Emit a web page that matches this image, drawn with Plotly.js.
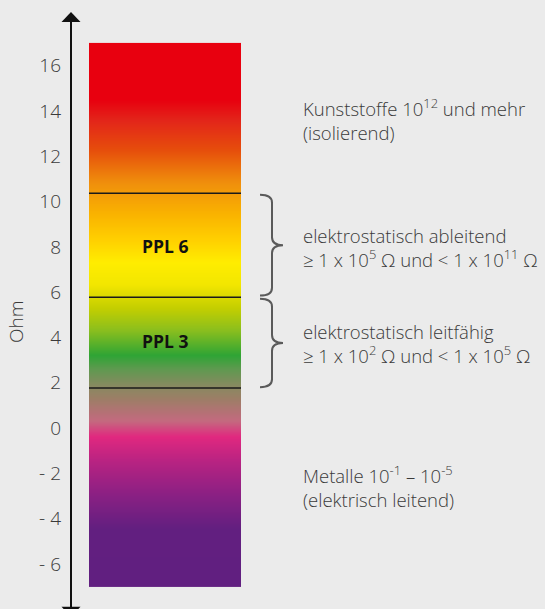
<!DOCTYPE html>
<html>
<head>
<meta charset="utf-8">
<script src="https://cdn.plot.ly/plotly-3.0.1.min.js"></script>
<style>
  html, body { margin: 0; padding: 0; background: #ebebeb; }
  #chart { width: 545px; height: 609px; }
</style>
</head>
<body>
<div id="chart"></div>
<script>
// ---- data ----
var barBottom = -7;
var barTop = 17;
var tickValues = [-6, -4, -2, 0, 2, 4, 6, 8, 10, 12, 14, 16];
var tickLabels = ['- 6', '- 4', '- 2', '0', '2', '4', '6', '8', '10', '12', '14', '16'];
var boundaries = [10.37, 5.78, 1.77];          // class borders inside the bar
var classNames = ['PPL 6', 'PPL 3'];
var classCenters = [8.04, 3.84];
var noteTexts = [
  'Kunststoffe 10<sup>12</sup> und mehr<br>(isolierend)',
  'elektrostatisch ableitend<br>≥ 1 x 10<sup>5</sup> Ω und &lt; 1 x 10<sup>11</sup> Ω',
  'elektrostatisch leitfähig<br>≥ 1 x 10<sup>2</sup> Ω und &lt; 1 x 10<sup>5</sup> Ω',
  'Metalle 10<sup>-1</sup> – 10<sup>-5</sup><br>(elektrisch leitend)'
];
var noteCenters = [13.62, 7.99, 3.73, -2.56];
var axisTitle = 'Ohm';

// gradient colour stops (value on the Ohm axis, colour)
var stopValues = [-7, -4.5, -3.0, -1.5, -0.4, 0.3, 1.3, 1.9, 2.6, 3.2, 4.3, 5.3, 6.3, 7.3, 8.3, 9.4, 10.8, 12.3, 13.6, 14.5, 17];
var stopColors = ['#611f80', '#621f80', '#8a2083', '#b82382', '#e1287f', '#c46a7f', '#9c7f66', '#868b60', '#5f9a50', '#2fa535',
                  '#8abf1e', '#c5cf00', '#f2e600', '#ffed00', '#ffd000', '#fab400', '#f0900c', '#e64d0c', '#e3251a', '#e8000f', '#e8000f'];

// ---- build ----
var span = barTop - barBottom;
var colorscale = stopValues.map(function (v, i) { return [(v - barBottom) / span, stopColors[i]]; });

var barLeft = 89, barRight = 241, axisX = 71;
var yRange = [-7.99, 18.90];

var heat = {
  type: 'heatmap',
  x: [barLeft, (barLeft + barRight) / 2, barRight],
  y: [barBottom, barBottom + 0.01, barTop - 0.01, barTop],
  z: [[barBottom, barBottom], [barBottom, barBottom], [barTop, barTop], [barTop, barTop]],
  zmin: barBottom, zmax: barTop,
  colorscale: colorscale,
  zsmooth: 'best',
  showscale: false,
  hoverinfo: 'skip'
};

var shapes = [];
boundaries.forEach(function (b) {
  shapes.push({ type: 'line', xref: 'x', yref: 'y', x0: barLeft, x1: barRight, y0: b, y1: b,
    line: { color: '#1a1a1a', width: 1.5 } });
});
shapes.push({ type: 'line', xref: 'x', yref: 'y', x0: axisX, x1: axisX, y0: yRange[0], y1: 17.93,
  line: { color: '#111', width: 2 } });
shapes.push({ type: 'path', xref: 'x', yref: 'y',
  path: 'M ' + (axisX - 9.5) + ',17.93 L ' + (axisX + 9.5) + ',17.93 L ' + axisX + ',18.37 Z',
  fillcolor: '#111', line: { width: 0 } });
shapes.push({ type: 'path', xref: 'x', yref: 'y',
  path: 'M ' + (axisX - 9.5) + ',-7.89 L ' + (axisX + 9.5) + ',-7.89 L ' + axisX + ',-8.34 Z',
  fillcolor: '#111', line: { width: 0 } });
function brace(yt, yb) {
  var x0 = 260, x1 = 272, x2 = 283, d = 0.35, ym = (yt + yb) / 2;
  return 'M ' + x0 + ',' + yt + ' Q ' + x1 + ',' + yt + ' ' + x1 + ',' + (yt - d) +
    ' L ' + x1 + ',' + (ym + d) + ' Q ' + x1 + ',' + ym + ' ' + x2 + ',' + ym +
    ' Q ' + x1 + ',' + ym + ' ' + x1 + ',' + (ym - d) +
    ' L ' + x1 + ',' + (yb + d) + ' Q ' + x1 + ',' + yb + ' ' + x0 + ',' + yb;
}
shapes.push({ type: 'path', xref: 'x', yref: 'y', path: brace(boundaries[0] - 0.07, boundaries[1] + 0.07),
  line: { color: '#5a5a5a', width: 2 } });
shapes.push({ type: 'path', xref: 'x', yref: 'y', path: brace(boundaries[1] - 0.07, boundaries[2] + 0.03),
  line: { color: '#5a5a5a', width: 2 } });

var fontFam = '"Open Sans", Lato, sans-serif';
var annotations = [];
classNames.forEach(function (t, i) {
  annotations.push({ xref: 'x', yref: 'y', x: (barLeft + barRight) / 2, y: classCenters[i], text: '<b>' + t + '</b>',
    showarrow: false, font: { family: fontFam, size: 17.5, color: '#111' } });
});
noteTexts.forEach(function (t, i) {
  annotations.push({ xref: 'x', yref: 'y', x: 301, y: noteCenters[i], text: t, xanchor: 'left', yanchor: 'middle',
    align: 'left', showarrow: false, font: { family: fontFam, size: 18.5, weight: 300, color: '#3a3a3a' } });
});
annotations.push({ xref: 'x', yref: 'y', x: 16, y: 4.68, text: axisTitle, textangle: -90, showarrow: false,
  font: { family: fontFam, size: 19, weight: 300, color: '#3a3a3a' } });

var layout = {
  width: 545, height: 609,
  margin: { l: 0, r: 0, t: 0, b: 0 },
  paper_bgcolor: '#ebebeb', plot_bgcolor: '#ebebeb',
  showlegend: false,
  xaxis: { range: [0, 545], visible: false, fixedrange: true },
  yaxis: {
    range: yRange, anchor: 'free', position: axisX / 545,
    tickvals: tickValues, ticktext: tickLabels, ticks: '', ticklabelstandoff: 10,
    showgrid: false, zeroline: false, showline: false, fixedrange: true,
    tickfont: { family: fontFam, size: 19, weight: 300, color: '#3a3a3a' }
  },
  shapes: shapes,
  annotations: annotations
};

Plotly.newPlot('chart', [heat], layout, { displayModeBar: false, staticPlot: true });
</script>
</body>
</html>
